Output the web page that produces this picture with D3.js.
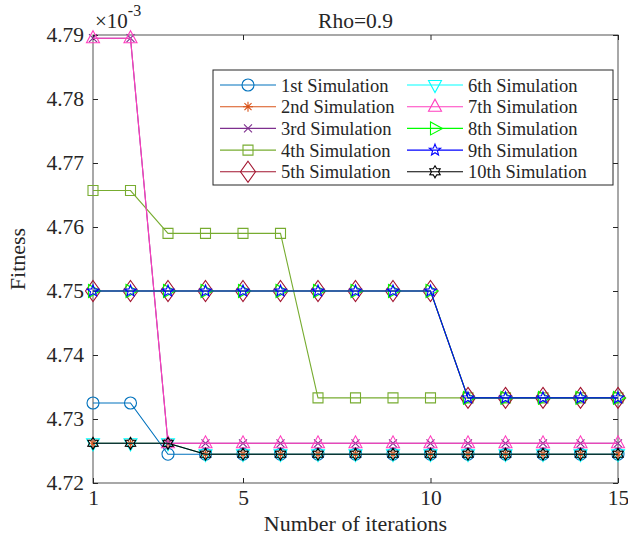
<!DOCTYPE html>
<html>
<head>
<meta charset="utf-8">
<script src="https://cdn.jsdelivr.net/npm/d3@7"></script>
<style>
	body { margin: 0; background: #fff; }
	text { font-family: "Liberation Serif", "Times New Roman", serif; fill: #262626; }
</style>
</head>
<body>
<div id="chart"></div>
<script>

// values as shown on the axis (x 10^-3)
let iterations = [1, 2, 3, 4, 5, 6, 7, 8, 9, 10, 11, 12, 13, 14, 15];
let sim1 = [4.7325, 4.7325, 4.7245, 4.7245, 4.7245, 4.7245, 4.7245, 4.7245, 4.7245, 4.7245, 4.7245, 4.7245, 4.7245, 4.7245, 4.7245];
let sim2 = [4.7262, 4.7262, 4.7262, 4.7245, 4.7245, 4.7245, 4.7245, 4.7245, 4.7245, 4.7245, 4.7245, 4.7245, 4.7245, 4.7245, 4.7245];
let sim3 = [4.7895, 4.7895, 4.7262, 4.7262, 4.7262, 4.7262, 4.7262, 4.7262, 4.7262, 4.7262, 4.7262, 4.7262, 4.7262, 4.7262, 4.7262];
let sim4 = [4.7657, 4.7657, 4.7590, 4.7590, 4.7590, 4.7590, 4.7333, 4.7333, 4.7333, 4.7333, 4.7333, 4.7333, 4.7333, 4.7333, 4.7333];
let sim5 = [4.7500, 4.7500, 4.7500, 4.7500, 4.7500, 4.7500, 4.7500, 4.7500, 4.7500, 4.7500, 4.7333, 4.7333, 4.7333, 4.7333, 4.7333];
let sim6 = [4.7262, 4.7262, 4.7262, 4.7245, 4.7245, 4.7245, 4.7245, 4.7245, 4.7245, 4.7245, 4.7245, 4.7245, 4.7245, 4.7245, 4.7245];
let sim7 = [4.7895, 4.7895, 4.7262, 4.7262, 4.7262, 4.7262, 4.7262, 4.7262, 4.7262, 4.7262, 4.7262, 4.7262, 4.7262, 4.7262, 4.7262];
let sim8 = [4.7500, 4.7500, 4.7500, 4.7500, 4.7500, 4.7500, 4.7500, 4.7500, 4.7500, 4.7500, 4.7333, 4.7333, 4.7333, 4.7333, 4.7333];
let sim9 = [4.7500, 4.7500, 4.7500, 4.7500, 4.7500, 4.7500, 4.7500, 4.7500, 4.7500, 4.7500, 4.7333, 4.7333, 4.7333, 4.7333, 4.7333];
let sim10 = [4.7262, 4.7262, 4.7262, 4.7245, 4.7245, 4.7245, 4.7245, 4.7245, 4.7245, 4.7245, 4.7245, 4.7245, 4.7245, 4.7245, 4.7245];

let seriesNames = ["1st Simulation", "2nd Simulation", "3rd Simulation", "4th Simulation", "5th Simulation",
	"6th Simulation", "7th Simulation", "8th Simulation", "9th Simulation", "10th Simulation"];
let xTicks = [1, 5, 10, 15];
let yTicks = [4.72, 4.73, 4.74, 4.75, 4.76, 4.77, 4.78, 4.79];

// marker + colour per series (matlab style)
let styles = [
	{ color: "#0072BD", marker: "o" },
	{ color: "#D95319", marker: "*" },
	{ color: "#7E2F8E", marker: "x" },
	{ color: "#77AC30", marker: "s" },
	{ color: "#A2142F", marker: "d" },
	{ color: "#00FFFF", marker: "v" },
	{ color: "#FF3FBF", marker: "^" },
	{ color: "#00FF00", marker: ">" },
	{ color: "#0000FF", marker: "p" },
	{ color: "#000000", marker: "h" }
];

function markerPath(m) {
	let p = d3.path();
	if (m === "o") {
		p.moveTo(6, 0); p.arc(0, 0, 6, 0, 2 * Math.PI);
	} else if (m === "*") {
		[0, 45, 90, 135].forEach(a => {
			let r = a * Math.PI / 180;
			p.moveTo(-5 * Math.cos(r), -5 * Math.sin(r));
			p.lineTo(5 * Math.cos(r), 5 * Math.sin(r));
		});
	} else if (m === "x") {
		p.moveTo(-4, -4); p.lineTo(4, 4); p.moveTo(-4, 4); p.lineTo(4, -4);
	} else if (m === "s") {
		p.rect(-5, -5, 10, 10);
	} else if (m === "d") {
		p.moveTo(0, -10.5); p.lineTo(7.5, 0); p.lineTo(0, 10.5); p.lineTo(-7.5, 0); p.closePath();
	} else if (m === "v") {
		p.moveTo(-6.5, -4.5); p.lineTo(6.5, -4.5); p.lineTo(0, 7.5); p.closePath();
	} else if (m === "^") {
		p.moveTo(-6.5, 4.5); p.lineTo(6.5, 4.5); p.lineTo(0, -7.5); p.closePath();
	} else if (m === ">") {
		p.moveTo(-4.5, -6.5); p.lineTo(-4.5, 6.5); p.lineTo(7.5, 0); p.closePath();
	} else if (m === "p") {
		for (let i = 0; i < 10; i++) {
			let r = i % 2 === 0 ? 6 : 2.6;
			let a = -Math.PI / 2 + i * Math.PI / 5;
			if (i === 0) p.moveTo(r * Math.cos(a), r * Math.sin(a));
			else p.lineTo(r * Math.cos(a), r * Math.sin(a));
		}
		p.closePath();
	} else if (m === "h") {
		for (let i = 0; i < 12; i++) {
			let r = i % 2 === 0 ? 6 : 3.5;
			let a = -Math.PI / 2 + i * Math.PI / 6;
			if (i === 0) p.moveTo(r * Math.cos(a), r * Math.sin(a));
			else p.lineTo(r * Math.cos(a), r * Math.sin(a));
		}
		p.closePath();
	}
	return p.toString();
}

class LineVis {

	constructor(parentElement, data) {
		this.parentElement = parentElement;
		this.data = data;
		this.initVis();
	}

	initVis() {
		let vis = this;

		vis.margin = { top: 35, right: 10, bottom: 62, left: 93 };
		vis.width = 618 - vis.margin.left;
		vis.height = 483 - vis.margin.top;

		vis.svg = d3.select(vis.parentElement).append("svg")
			.attr("width", 628)
			.attr("height", 545)
			.append("g")
			.attr("transform", "translate(" + vis.margin.left + "," + vis.margin.top + ")");

		vis.x = d3.scaleLinear().domain([1, 15]).range([0, vis.width]);
		vis.y = d3.scaleLinear().domain([4.72, 4.79]).range([vis.height, 0]);

		vis.drawAxes();
		vis.updateVis();
		vis.drawLegend();
	}

	drawAxes() {
		let vis = this;
		let font = "21.5px";

		// box
		vis.svg.append("rect")
			.attr("width", vis.width).attr("height", vis.height)
			.attr("fill", "none").attr("stroke", "#262626").attr("stroke-width", 1).attr("opacity", 0.8);

		// inward ticks all four sides
		let xAxisB = d3.axisBottom(vis.x).tickValues(xTicks).tickSize(-5).tickSizeOuter(0).tickPadding(7);
		let xAxisT = d3.axisTop(vis.x).tickValues(xTicks).tickSize(-5).tickSizeOuter(0).tickFormat("");
		let yAxisL = d3.axisLeft(vis.y).tickValues(yTicks).tickSize(-5).tickSizeOuter(0).tickPadding(10).tickFormat(d3.format(".2f"));
		let yAxisR = d3.axisRight(vis.y).tickValues(yTicks).tickSize(-5).tickSizeOuter(0).tickFormat("");

		let gb = vis.svg.append("g").attr("transform", "translate(0," + vis.height + ")").call(xAxisB);
		let gt = vis.svg.append("g").call(xAxisT);
		let gl = vis.svg.append("g").call(yAxisL);
		let gr = vis.svg.append("g").attr("transform", "translate(" + vis.width + ",0)").call(yAxisR);

		[gb, gt, gl, gr].forEach(g => {
			g.attr("font-family", null);
			g.select(".domain").remove();
			g.selectAll("line").attr("stroke", "#262626");
			g.selectAll("text").style("font-size", font)
				.style("font-family", "'Liberation Serif', serif").attr("fill", "#262626");
		});
		gl.selectAll("text").attr("dx", "1px");

		// axis labels
		vis.svg.append("text")
			.attr("x", vis.width / 2).attr("y", vis.height + 48)
			.attr("text-anchor", "middle").style("font-size", "22px")
			.text("Number of iterations");

		vis.svg.append("text")
			.attr("transform", "translate(" + (-68) + "," + (vis.height / 2) + ") rotate(-90)")
			.attr("text-anchor", "middle").style("font-size", "22px")
			.text("Fitness");

		vis.svg.append("text")
			.attr("x", vis.width / 2).attr("y", -7)
			.attr("text-anchor", "middle").style("font-size", "21.5px")
			.text("Rho=0.9");

		// exponent label
		let exp = vis.svg.append("text").attr("x", 2).attr("y", -7).style("font-size", "21px");
		exp.append("tspan").text("\u00d710");
		exp.append("tspan").attr("dy", -12).style("font-size", "16px").text("-3");
	}

	updateVis() {
		let vis = this;

		let line = d3.line()
			.x((d, i) => vis.x(iterations[i]))
			.y(d => vis.y(d));

		let groups = vis.svg.selectAll(".series")
			.data(vis.data)
			.enter()
			.append("g")
			.attr("class", "series");

		groups.append("path")
			.attr("d", d => line(d.values))
			.attr("fill", "none")
			.attr("stroke", d => d.style.color)
			.attr("stroke-width", 1.1);

		groups.each(function (s) {
			d3.select(this).selectAll(".mark")
				.data(s.values)
				.enter()
				.append("path")
				.attr("class", "mark")
				.attr("transform", (d, i) => "translate(" + vis.x(iterations[i]) + "," + vis.y(d) + ")")
				.attr("d", markerPath(s.style.marker))
				.attr("fill", "none")
				.attr("stroke", s.style.color)
				.attr("stroke-width", 1.1);
		});
	}

	drawLegend() {
		let vis = this;
		let lx = 213 - vis.margin.left, ly = 70 - vis.margin.top;

		let leg = vis.svg.append("g").attr("transform", "translate(" + lx + "," + ly + ")");
		leg.append("rect")
			.attr("width", 400).attr("height", 115)
			.attr("fill", "#fff").attr("stroke", "#262626").attr("stroke-width", 1).attr("opacity", 1);

		let items = leg.selectAll(".item")
			.data(vis.data)
			.enter()
			.append("g")
			.attr("class", "item")
			.attr("transform", (d, i) => "translate(" + (i < 5 ? 7 : 194) + "," + (15 + (i % 5) * 21.7) + ")");

		items.append("line")
			.attr("x1", 0).attr("x2", 56)
			.attr("stroke", d => d.style.color).attr("stroke-width", 1.1);
		items.append("path")
			.attr("transform", "translate(28,0)")
			.attr("d", d => markerPath(d.style.marker))
			.attr("fill", "none")
			.attr("stroke", d => d.style.color).attr("stroke-width", 1.1);
		items.append("text")
			.attr("x", 61).attr("y", 6.5)
			.style("font-size", "18.5px")
			.text(d => d.name);
	}
}

let allSims = [sim1, sim2, sim3, sim4, sim5, sim6, sim7, sim8, sim9, sim10];
let seriesData = allSims.map((v, i) => ({ name: seriesNames[i], values: v, style: styles[i] }));

let chart = new LineVis(document.getElementById("chart"), seriesData);

</script>
</body>
</html>
